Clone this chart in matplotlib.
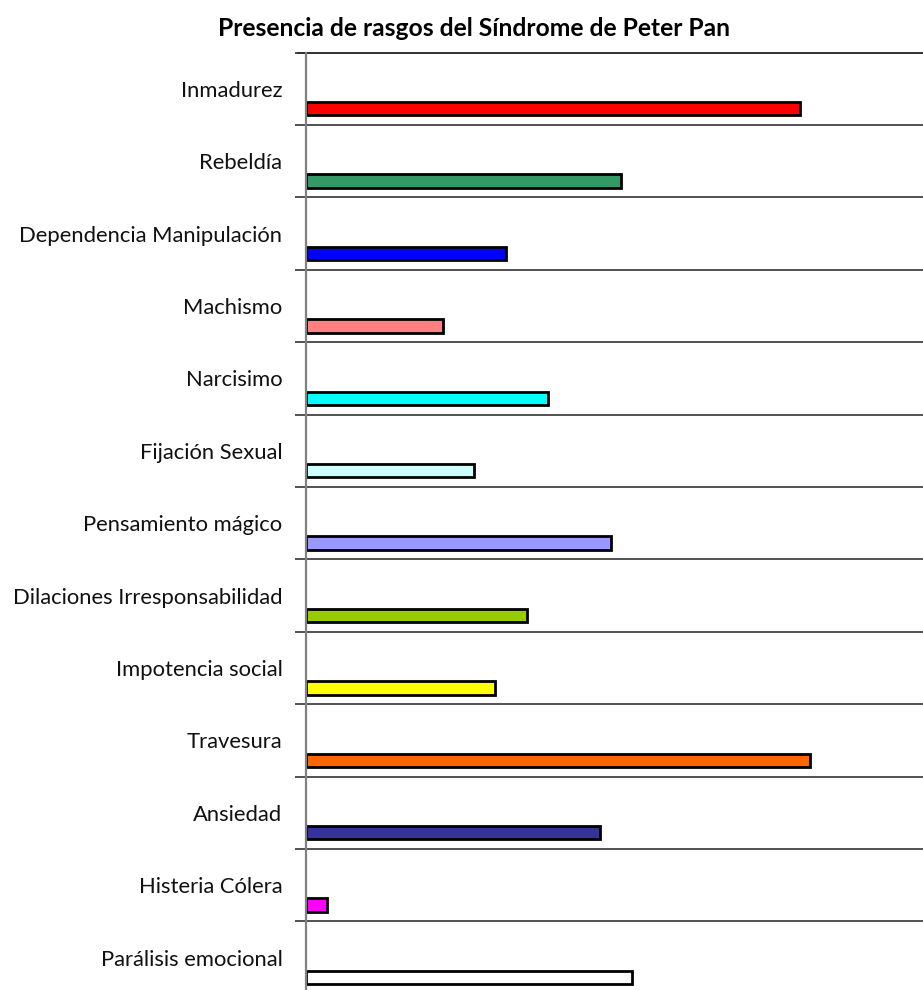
import matplotlib

matplotlib.use("Agg")
import matplotlib.pyplot as plt
import numpy as np

plt.rcParams["font.family"] = ["Lato", "DejaVu Sans"]

categories = [
    "Inmadurez",
    "Rebeldía",
    "Dependencia Manipulación",
    "Machismo",
    "Narcisimo",
    "Fijación Sexual",
    "Pensamiento mágico",
    "Dilaciones Irresponsabilidad",
    "Impotencia social",
    "Travesura",
    "Ansiedad",
    "Histeria Cólera",
    "Parálisis emocional",
]
values = [47, 30, 19, 13, 23, 16, 29, 21, 18, 48, 28, 2, 31]
colors = [
    "#FF0000", "#339966", "#0000FF", "#FF8080", "#00FFFF", "#CCFFFF", "#9999FF",
    "#99CC00", "#FFFF00", "#FF6600", "#333399", "#FF00FF", "#FFFFFF",
]

W, H = 923, 990
fig = plt.figure(figsize=(W / 100, H / 100), dpi=100)

band_px = 72.4
top_px = 52.5
left_px = 306
unit_px = 10.5
xmax = 60
n = len(categories)
ax = fig.add_axes([
    left_px / W,
    1 - (top_px + n * band_px) / H,
    xmax * unit_px / W,
    n * band_px / H,
])

index = np.arange(n)
ax.barh(index + 0.775, values, height=0.185, color=colors,
        edgecolor="black", linewidth=2.0, zorder=3)

ax.set_xlim(0, xmax)
ax.set_ylim(n, 0)

# category boundaries: gridlines + outward ticks
ax.set_yticks(np.arange(n + 1), minor=True)
ax.set_yticks(index + 0.5)
ax.set_yticklabels(categories, fontsize=15.8, color="#111111")
ax.tick_params(axis="y", which="major", length=0, pad=17)
ax.tick_params(axis="y", which="minor", length=8, width=1.2, color="#333333")
ax.grid(axis="y", which="minor", color="#333333", linewidth=1.2, zorder=0)
ax.plot([-8 / unit_px, xmax], [0, 0], color="#333333", linewidth=1.4,
        clip_on=False, zorder=1)
ax.set_xticks([])

for side in ["top", "right", "bottom"]:
    ax.spines[side].set_visible(False)
ax.spines["left"].set_color("#808080")
ax.spines["left"].set_linewidth(1.6)
ax.spines["left"].set_zorder(4)

fig.text(474 / W, 1 - 28 / H, "Presencia de rasgos del Síndrome de Peter Pan",
         ha="center", va="center", fontsize=17.7, fontweight="bold", color="#000000")

fig.savefig("out.png", dpi=100)
